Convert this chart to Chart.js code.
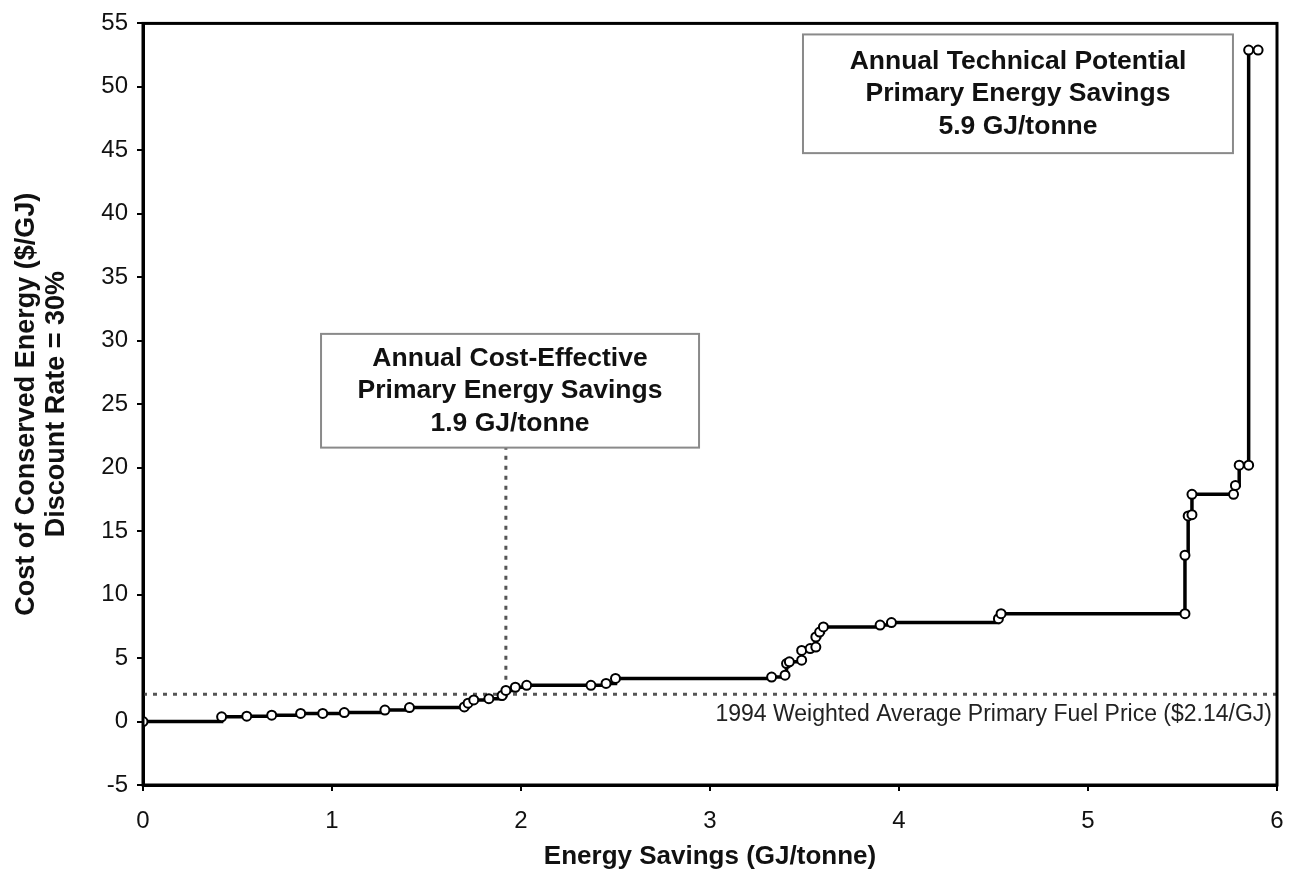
<!DOCTYPE html>
<html>
<head>
<meta charset="utf-8">
<script src="https://cdn.jsdelivr.net/npm/chart.js@4.4.1/dist/chart.umd.min.js"></script>
<style>
  body { margin: 0; background: #fff; }
  #wrap { width: 1293px; height: 879px; }
</style>
</head>
<body>
<div id="wrap"><canvas id="myChart" width="1293" height="879"></canvas></div>
<script>
  // cumulative savings (GJ/tonne) and cost of conserved energy ($/GJ) for each measure
  const savings = [0, 0.416, 0.549, 0.681, 0.834, 0.951, 1.065, 1.28, 1.41, 1.70, 1.72, 1.75, 1.83, 1.90, 1.92, 1.97, 2.03,
    2.37, 2.45, 2.50, 3.326, 3.397, 3.405, 3.42, 3.485, 3.485, 3.53, 3.56, 3.56, 3.58, 3.60, 3.90, 3.96, 4.526, 4.54,
    5.513, 5.513, 5.53, 5.55, 5.55, 5.77, 5.78, 5.80, 5.85, 5.85, 5.90];
  const cost = [0, 0.37, 0.42, 0.50, 0.64, 0.64, 0.71, 0.90, 1.10, 1.15, 1.45, 1.70, 1.80, 2.05, 2.45, 2.70, 2.85,
    2.85, 3.0, 3.4, 3.5, 3.65, 4.57, 4.7, 4.83, 5.6, 5.75, 5.87, 6.66, 7.05, 7.45, 7.6, 7.8, 8.1, 8.5,
    8.5, 13.1, 16.2, 16.3, 17.9, 17.9, 18.6, 20.2, 20.2, 52.9, 52.9];

  // reference values
  const fuelPrice = 2.14;           // 1994 weighted average primary fuel price
  const costEffective = 1.92;       // cost-effective savings marker
  const costEffectiveSpan = [2.5, 21.6];

  const xTicks = [0, 1, 2, 3, 4, 5, 6];
  const yTicks = [-5, 0, 5, 10, 15, 20, 25, 30, 35, 40, 45, 50, 55];

  const font = "'Liberation Sans', Arial, sans-serif";

  // boxes and texts on top of the plot
  const notes = {
    id: 'notes',
    afterDatasetsDraw(chart) {
      const c = chart.ctx, x = chart.scales.x, y = chart.scales.y, a = chart.chartArea;
      c.save();
      const boxes = [
        { x0: 0.942, x1: 2.942, y0: 30.54, y1: 21.58, lines: ['Annual Cost-Effective', 'Primary Energy Savings', '1.9 GJ/tonne'] },
        { x0: 3.492, x1: 5.767, y0: 54.13, y1: 44.78, lines: ['Annual Technical Potential', 'Primary Energy Savings', '5.9 GJ/tonne'] }
      ];
      boxes.forEach(b => {
        const l = x.getPixelForValue(b.x0), r = x.getPixelForValue(b.x1);
        const t = y.getPixelForValue(b.y0), bt = y.getPixelForValue(b.y1);
        c.fillStyle = '#fff';
        c.fillRect(l, t, r - l, bt - t);
        c.strokeStyle = '#8a8a8a';
        c.lineWidth = 2;
        c.strokeRect(l, t, r - l, bt - t);
        c.fillStyle = '#111';
        c.font = 'bold 26.5px ' + font;
        c.textAlign = 'center';
        c.textBaseline = 'middle';
        const cy = (t + bt) / 2;
        b.lines.forEach((s, i) => c.fillText(s, (l + r) / 2, cy + (i - 1) * 32.5));
      });
      // fuel price label
      c.font = '23px ' + font;
      c.fillStyle = '#222';
      c.textAlign = 'right';
      c.textBaseline = 'middle';
      c.fillText('1994 Weighted Average Primary Fuel Price ($2.14/GJ)', a.right - 5, y.getPixelForValue(fuelPrice) + 20);
      // frame
      c.strokeStyle = '#000';
      c.lineWidth = 3;
      c.strokeRect(a.left, a.top, a.right - a.left, a.bottom - a.top);
      c.restore();
    }
  };

  const ctx = document.getElementById('myChart').getContext('2d');

  const myChart = new Chart(ctx, {
    type: 'line',
    data: {
      datasets: [{
        label: 'Supply curve',
        data: savings.map((v, i) => ({ x: v, y: cost[i] })),
        stepped: true,
        borderColor: '#000',
        borderWidth: 3.5,
        pointRadius: 4.5,
        pointBorderWidth: 2,
        pointBackgroundColor: '#fff',
        pointBorderColor: '#000'
      }, {
        label: 'Fuel price',
        data: [{ x: 0, y: fuelPrice }, { x: 6, y: fuelPrice }],
        borderColor: '#555',
        borderWidth: 3,
        borderDash: [4, 6],
        pointRadius: 0
      }, {
        label: 'Cost-effective',
        data: costEffectiveSpan.map(v => ({ x: costEffective, y: v })),
        borderColor: '#555',
        borderWidth: 3,
        borderDash: [4, 6],
        pointRadius: 0
      }]
    },
    options: {
      responsive: false,
      animation: false,
      layout: { padding: { top: 22, right: 16, left: 0, bottom: 0 } },
      plugins: { legend: { display: false }, tooltip: { enabled: false } },
      scales: {
        x: {
          type: 'linear',
          min: 0,
          max: 6,
          afterBuildTicks: s => { s.ticks = xTicks.map(v => ({ value: v })); },
          afterFit: s => { s.height = 94; s.paddingRight = 0; s.paddingLeft = 0; },
          grid: { drawOnChartArea: false, tickLength: 6, color: '#000', lineWidth: 2 },
          border: { color: '#000', width: 3 },
          ticks: { color: '#111', padding: 16, font: { family: font, size: 24 } },
          title: {
            display: true,
            text: 'Energy Savings (GJ/tonne)',
            color: '#111',
            padding: { top: 0, bottom: 7 },
            font: { family: font, size: 26, weight: 'bold' }
          }
        },
        y: {
          type: 'linear',
          min: -5,
          max: 55,
          afterBuildTicks: s => { s.ticks = yTicks.map(v => ({ value: v })); },
          afterFit: s => { s.width = 143; },
          grid: { drawOnChartArea: false, tickLength: 6, color: '#000', lineWidth: 2 },
          border: { color: '#000', width: 3 },
          ticks: { color: '#111', padding: 9, font: { family: font, size: 24 } },
          title: {
            display: true,
            text: ['Cost of Conserved Energy ($/GJ)', 'Discount Rate = 30%'],
            color: '#111',
            padding: { top: 12, bottom: 0 },
            font: { family: font, size: 27, weight: 'bold', lineHeight: 1.1 }
          }
        }
      }
    },
    plugins: [notes]
  });
</script>
</body>
</html>
